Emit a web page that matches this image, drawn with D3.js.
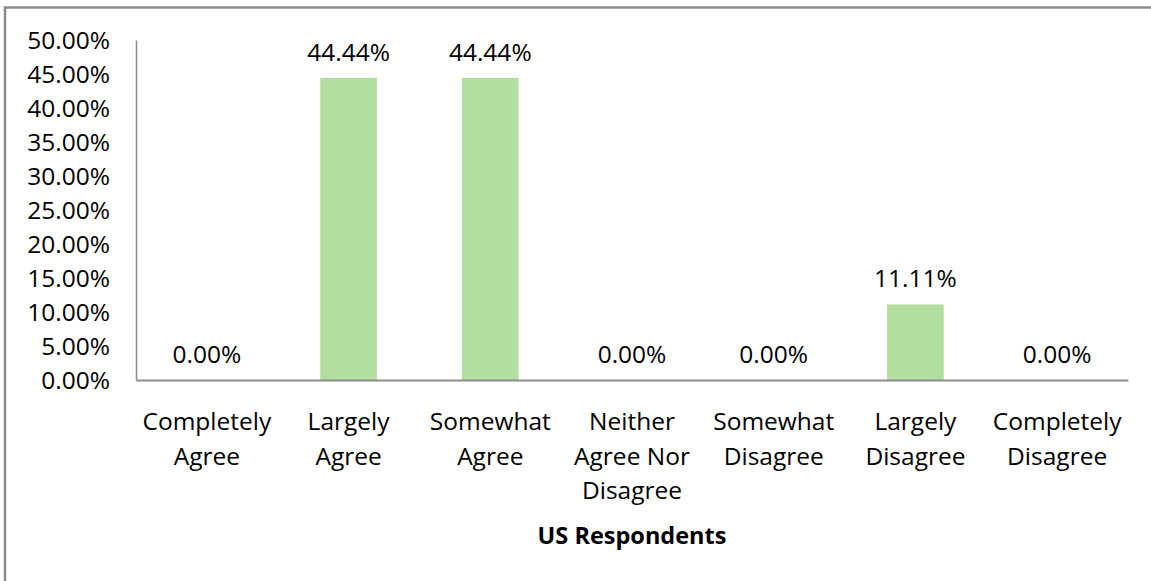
<!DOCTYPE html>
<html>
<head>
<meta charset="utf-8">
<script src="https://cdn.jsdelivr.net/npm/d3@7"></script>
<style>
  html, body { margin: 0; padding: 0; background: #fff; overflow: hidden; }
  svg { display: block; }
  text { font-family: "Open Sans", "Noto Sans", sans-serif; fill: #000; }
</style>
</head>
<body>
<svg id="chart" width="1151" height="581"></svg>
<script>
const categories = [
  ["Completely", "Agree"],
  ["Largely", "Agree"],
  ["Somewhat", "Agree"],
  ["Neither", "Agree Nor", "Disagree"],
  ["Somewhat", "Disagree"],
  ["Largely", "Disagree"],
  ["Completely", "Disagree"]
];
const values = [0.0, 44.44, 44.44, 0.0, 0.0, 11.11, 0.0];
const yTicks = [0, 5, 10, 15, 20, 25, 30, 35, 40, 45, 50];
const xTitle = "US Respondents";

const svg = d3.select("#chart");
const W = 1151, H = 581;
const FS = 24.5;
const margin = { left: 136, right: 23, top: 40, bottom: 201 };
const plotW = W - margin.left - margin.right;
const plotH = H - margin.top - margin.bottom;

// outer frame
svg.append("rect")
  .attr("x", 5).attr("y", 7.5)
  .attr("width", W + 10).attr("height", H + 10)
  .attr("fill", "none").attr("stroke", "#8c8c8c").attr("stroke-width", 2.5);

const g = svg.append("g").attr("transform", `translate(${margin.left},${margin.top})`);

const x = d3.scaleBand().domain(d3.range(categories.length)).range([0, plotW]).paddingInner(0.6).paddingOuter(0.3);
const y = d3.scaleLinear().domain([0, 50]).range([plotH, 0]);

// y axis
const yAxis = g.append("g").call(d3.axisLeft(y).tickValues(yTicks).tickSize(0).tickPadding(26).tickFormat(d => d.toFixed(2) + "%"));
yAxis.select(".domain").attr("stroke", "#8c8c8c").attr("stroke-width", 1.5);
yAxis.selectAll("text").attr("font-size", FS).attr("font-family", "Open Sans").attr("dy", "0.35em");

// bars
g.selectAll("rect.bar").data(values).join("rect")
  .attr("class", "bar")
  .attr("x", (d, i) => x(i))
  .attr("y", d => y(d))
  .attr("width", x.bandwidth())
  .attr("height", d => plotH - y(d))
  .attr("fill", "#b3dea0");

// x axis
const xAxis = g.append("g").attr("transform", `translate(0,${plotH})`)
  .call(d3.axisBottom(x).tickSize(0).tickFormat(""));
xAxis.select(".domain").attr("stroke", "#8c8c8c").attr("stroke-width", 2);

// value labels
g.selectAll("text.val").data(values).join("text")
  .attr("class", "val")
  .attr("x", (d, i) => x(i) + x.bandwidth() / 2)
  .attr("y", d => y(d) - 17)
  .attr("text-anchor", "middle")
  .attr("font-size", FS)
  .text(d => d.toFixed(2) + "%");

// category labels
const lab = g.selectAll("text.cat").data(categories).join("text")
  .attr("class", "cat")
  .attr("text-anchor", "middle")
  .attr("font-size", FS)
  .attr("transform", (d, i) => `translate(${x(i) + x.bandwidth() / 2},${plotH + 50})`);
lab.selectAll("tspan").data(d => d).join("tspan")
  .attr("x", 0)
  .attr("y", (d, j) => j * 34.5)
  .text(d => d);

// axis title
g.append("text")
  .attr("x", plotW / 2)
  .attr("y", plotH + 164)
  .attr("text-anchor", "middle")
  .attr("font-size", FS - 1)
  .attr("font-weight", "bold")
  .text(xTitle);
</script>
</body>
</html>
